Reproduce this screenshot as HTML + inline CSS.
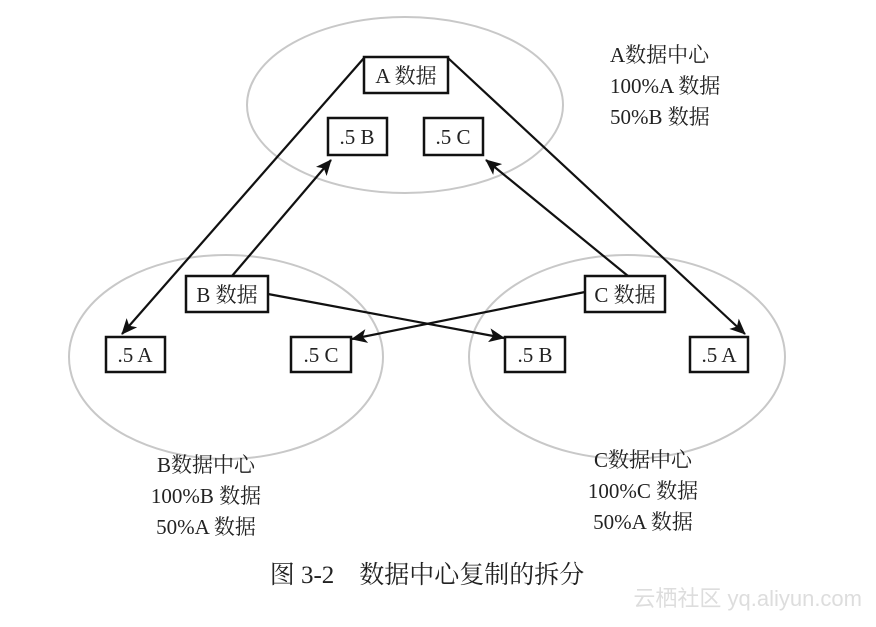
<!DOCTYPE html>
<html><head><meta charset="utf-8"><style>
body{margin:0;background:#fff}
svg text{font-family:"Liberation Serif","Noto Serif CJK SC",serif;fill:#222}
</style></head><body>
<svg width="876" height="622" viewBox="0 0 876 622" xmlns="http://www.w3.org/2000/svg">
<defs><marker id="a" markerWidth="16" markerHeight="14" refX="15" refY="7" orient="auto" markerUnits="userSpaceOnUse"><path d="M0,0 L16,7 L0,14 L4,7 z" fill="#111"/></marker></defs>
<g fill="none" stroke="#c8c8c8" stroke-width="2">
<ellipse cx="405" cy="105" rx="158" ry="88"/>
<ellipse cx="226" cy="357" rx="157" ry="102"/>
<ellipse cx="627" cy="357" rx="158" ry="102"/>
</g>
<g stroke="#111" stroke-width="2.2" fill="none" marker-end="url(#a)">
<line x1="364" y1="58" x2="122" y2="334"/>
<line x1="448" y1="58" x2="745" y2="334"/>
<line x1="232" y1="276" x2="331" y2="160"/>
<line x1="628" y1="276" x2="486" y2="160"/>
<line x1="268" y1="294" x2="504" y2="338"/>
<line x1="585" y1="292" x2="352" y2="339"/>
</g>
<g fill="#fff" stroke="#111" stroke-width="2.5">
<rect x="364" y="57" width="84" height="36"/>
<rect x="328" y="118" width="59" height="37"/>
<rect x="424" y="118" width="59" height="37"/>
<rect x="186" y="276" width="82" height="36"/>
<rect x="585" y="276" width="80" height="36"/>
<rect x="106" y="337" width="59" height="35"/>
<rect x="291" y="337" width="60" height="35"/>
<rect x="505" y="337" width="60" height="35"/>
<rect x="690" y="337" width="58" height="35"/>
</g>
<g font-size="21" text-anchor="middle">
<text x="406" y="83">A 数据</text>
<text x="357" y="144">.5 B</text>
<text x="453" y="144">.5 C</text>
<text x="227" y="302">B 数据</text>
<text x="625" y="302">C 数据</text>
<text x="135" y="362">.5 A</text>
<text x="321" y="362">.5 C</text>
<text x="535" y="362">.5 B</text>
<text x="719" y="362">.5 A</text>
</g>
<g font-size="21">
<text x="610" y="62">A数据中心</text>
<text x="610" y="93">100%A 数据</text>
<text x="610" y="124">50%B 数据</text>
</g>
<g font-size="21" text-anchor="middle">
<text x="206" y="472">B数据中心</text>
<text x="206" y="503">100%B 数据</text>
<text x="206" y="534">50%A 数据</text>
<text x="643" y="467">C数据中心</text>
<text x="643" y="498">100%C 数据</text>
<text x="643" y="529">50%A 数据</text>
</g>
<text x="427" y="583" font-size="25" text-anchor="middle">图 3-2　数据中心复制的拆分</text>
<text x="862" y="606" font-size="22" text-anchor="end" style="fill:#ddd;font-family:'Liberation Sans','Noto Sans CJK SC',sans-serif">云栖社区 yq.aliyun.com</text>
</svg>
</body></html>
